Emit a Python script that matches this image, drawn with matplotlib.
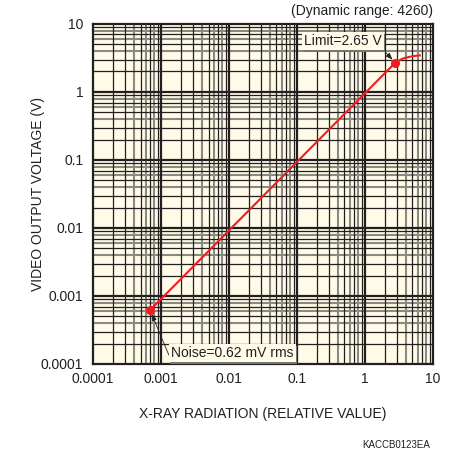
import numpy as np
import matplotlib
matplotlib.use("Agg")
import matplotlib.pyplot as plt
import matplotlib.patheffects as pe

plt.rcParams['font.family'] = ['Liberation Sans', 'DejaVu Sans']

# data
radiation = [6.9e-4, 2.8, 3.6, 4.9, 6.4]
voltage = [6.2e-4, 2.7, 3.1, 3.35, 3.45]
noise_pt = (6.9e-4, 6.2e-4)
limit_pt = (2.8, 2.7)
x_ticks = [1e-4, 1e-3, 1e-2, 1e-1, 1, 10]
x_ticklabels = ['0.0001', '0.001', '0.01', '0.1', '1', '10']
y_ticks = [1e-4, 1e-3, 1e-2, 1e-1, 1, 10]
y_ticklabels = ['0.0001', '0.001', '0.01', '0.1', '1', '10']

ink = '#231f20'
paper = '#fffbe8'
red = '#ee1c25'

fig = plt.figure(figsize=(4.52, 4.53), dpi=100)
ax = fig.add_axes([0.2058, 0.1965, 0.752, 0.7506])
ax.set_facecolor(paper)
ax.set_xscale('log')
ax.set_yscale('log')
ax.set_xlim(1e-4, 10)
ax.set_ylim(1e-4, 10)

#log paper grid: black at 2,3,5,7,9 and grey at 4,6,8
for dec in [1e-4, 1e-3, 1e-2, 1e-1, 1]:
    for m in [4, 6, 8]:
        ax.axvline(m * dec, color='#8a8a80', lw=1.5, zorder=1)
        ax.axhline(m * dec, color='#8a8a80', lw=1.5, zorder=1)
    for m in [2, 3, 5, 7, 9]:
        ax.axvline(m * dec, color=ink, lw=0.9, zorder=2)
        ax.axhline(m * dec, color=ink, lw=0.9, zorder=2)
for dec in x_ticks[1:-1]:
    ax.axvline(dec, color=ink, lw=1.6, zorder=2)
    ax.axhline(dec, color=ink, lw=1.6, zorder=2)

for s in ax.spines.values():
    s.set_color(ink)
    s.set_linewidth(1.6)
    s.set_zorder(3)

ax.set_xticks(x_ticks)
ax.set_xticklabels(x_ticklabels)
ax.set_yticks(y_ticks)
ax.set_yticklabels(y_ticklabels)
ax.minorticks_off()
ax.tick_params(axis='both', length=0, labelsize=10, colors=ink)
ax.tick_params(axis='x', pad=6)
ax.tick_params(axis='y', pad=7)

#the response curve
ax.plot(radiation, voltage, color=red, lw=1.5, zorder=4)
ax.plot(*noise_pt, 'o', color=red, ms=5.5, zorder=5)
ax.plot(*limit_pt, 'o', color=red, ms=5.5, zorder=5)

shadow = [pe.withSimplePatchShadow(offset=(1, -1.5), shadow_rgbFace='#777770', alpha=1)]

t1 = ax.annotate('Limit=2.65 V', xy=limit_pt, xytext=(1.75, 5.6),
                 ha='right', va='center', fontsize=10, color=ink, zorder=6,
                 bbox=dict(boxstyle='square,pad=0.15', fc=paper, ec='none'),
                 arrowprops=dict(arrowstyle='-|>,head_length=0.4,head_width=0.15',
                                 color=ink, lw=0.6, shrinkA=0, shrinkB=3,
                                 relpos=(1, 0)))
t1.get_bbox_patch().set_path_effects(shadow)

t2 = ax.annotate('Noise=0.62 mV rms', xy=noise_pt, xytext=(1.4e-3, 1.45e-4),
                 ha='left', va='center', fontsize=10, color=ink, zorder=6,
                 bbox=dict(boxstyle='square,pad=0.15', fc=paper, ec='none'),
                 arrowprops=dict(arrowstyle='-|>,head_length=0.4,head_width=0.15',
                                 color=ink, lw=0.6, shrinkA=0, shrinkB=3,
                                 relpos=(0, 0)))
t2.get_bbox_patch().set_path_effects(shadow)

fig.text(0.083, 0.572, 'VIDEO OUTPUT VOLTAGE (V)', rotation=90, ha='center',
         va='center', fontsize=10, color=ink)
fig.text(0.582, 0.086, 'X-RAY RADIATION (RELATIVE VALUE)', ha='center',
         va='center', fontsize=10, color=ink)
fig.text(0.958, 0.976, '(Dynamic range: 4260)', ha='right', va='center',
         fontsize=10, color=ink)
fig.text(0.951, 0.018, 'KACCB0123EA', ha='right', va='center',
         fontsize=7, color=ink)

fig.savefig('out.png', dpi=100, facecolor='white')
